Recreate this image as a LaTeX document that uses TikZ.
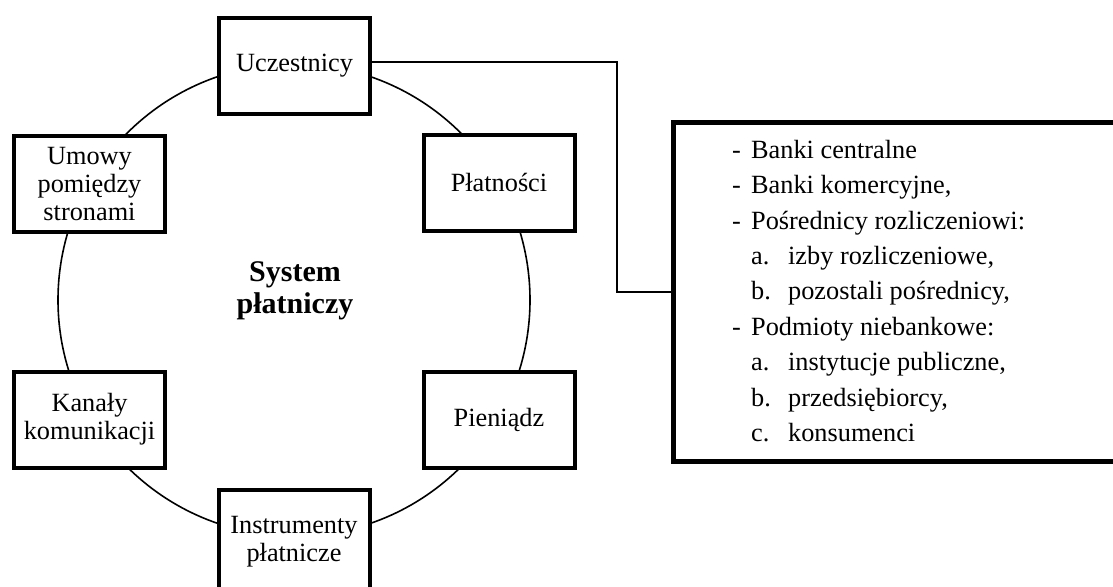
\documentclass[tikz,border=0pt]{standalone}
\usepackage{fontspec}
\setmainfont{Liberation Serif}
\begin{document}
\begin{tikzpicture}[x=1pt,y=-1pt,
  part/.style={draw, line width=4pt, fill=white, minimum width=151pt,
    minimum height=96pt, inner sep=0pt, align=center,
    font=\fontsize{26.3}{28.3}\selectfont},
  ring/.style={draw, circle, line width=1.6pt, minimum size=472pt, inner sep=0pt},
  link/.style={line width=1.6pt},
  listbox/.style={draw, line width=5pt, minimum width=460pt, minimum height=339pt,
    inner sep=0pt, anchor=north west},
  item/.style={anchor=base west, inner sep=0pt, font=\fontsize{26.3}{26.3}\selectfont},
  title/.style={align=center, inner sep=0pt, font=\bfseries\fontsize{30}{32.5}\selectfont}]
\useasboundingbox (0,0) rectangle (1113,586);

% the ring joining all parts of the system
\node[ring] (ring) at (294,300) {};

% parts of the payment system
\node[part] (u) at (294.5,66) {Uczestnicy};
\node[part] (pl) at (499,182.5) {Płatności};
\node[part] (pi) at (499,419.5) {Pieniądz};
\node[part, minimum height=103pt] (in) at (294,541.5) {Instrumenty\\płatnicze};
\node[part] (ka) at (89.5,419.5) {Kanały\\komunikacji};
\node[part] (um) at (89.5,184) {Umowy\\pomiędzy\\stronami};

\node[title] (title) at (295,291) {System\\płatniczy};

% list of participants
\node[listbox] (list) at (671,120) {};
\node[item] (l1) at (732,158.3) {\makebox[19pt][l]{-}Banki centralne};
\node[item] (l2) at (732,193.7) {\makebox[19pt][l]{-}Banki komercyjne,};
\node[item] (l3) at (732,229.1) {\makebox[19pt][l]{-}Pośrednicy rozliczeniowi:};
\node[item] (l4) at (751,264.5) {\makebox[37pt][l]{a.}izby rozliczeniowe,};
\node[item] (l5) at (751,299.9) {\makebox[37pt][l]{b.}pozostali pośrednicy,};
\node[item] (l6) at (732,335.3) {\makebox[19pt][l]{-}Podmioty niebankowe:};
\node[item] (l7) at (751,370.7) {\makebox[37pt][l]{a.}instytucje publiczne,};
\node[item] (l8) at (751,406.1) {\makebox[37pt][l]{b.}przedsiębiorcy,};
\node[item] (l9) at (751,441.5) {\makebox[37pt][l]{c.}konsumenci};

% connector from participants to the list
\draw[link] ([yshift=4pt]u.east) -- ++(245,0) |- (list.west);
\end{tikzpicture}
\end{document}
